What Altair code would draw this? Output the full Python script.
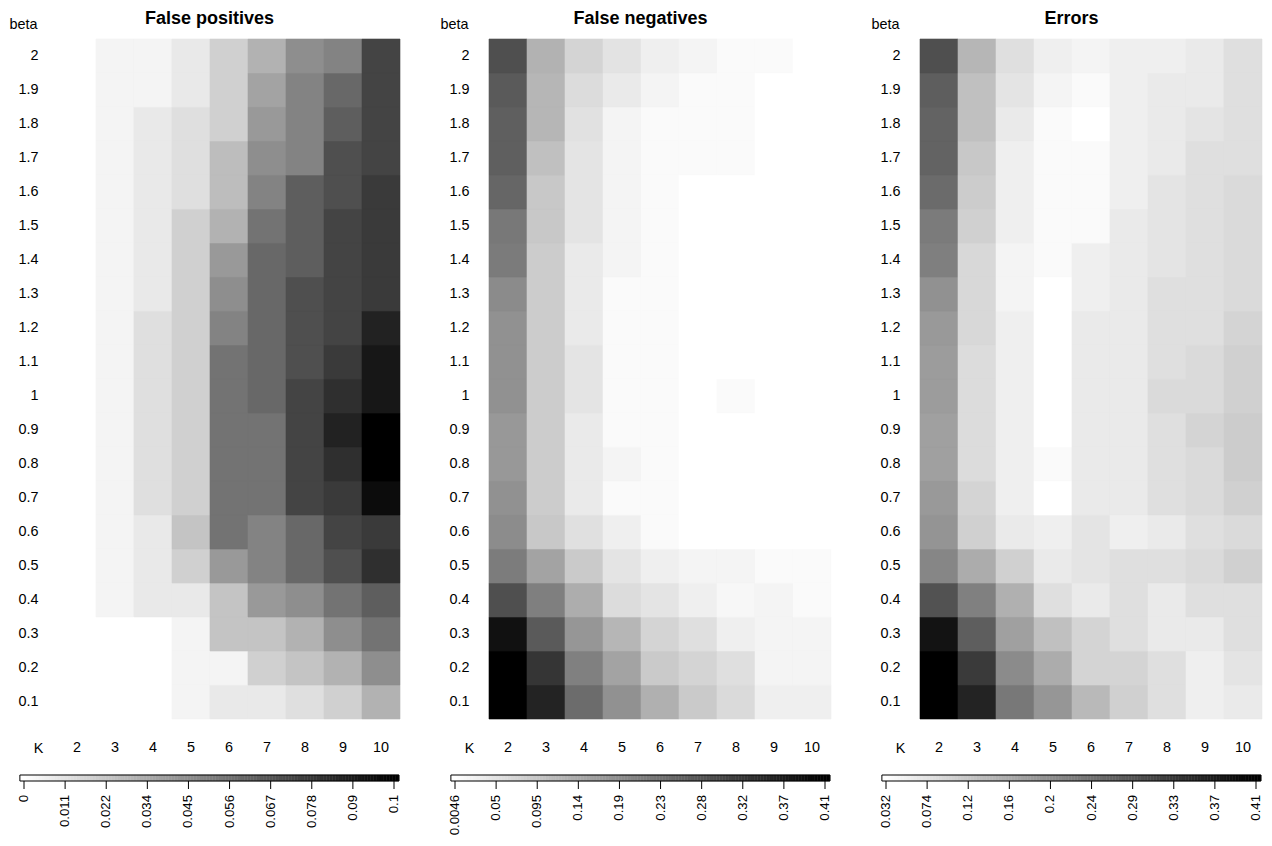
import altair as alt
import numpy as np
import pandas as pd

FONT = "Liberation Sans"

K_LABELS = ["2", "3", "4", "5", "6", "7", "8", "9", "10"]
# beta from bottom (0.1) to top (2)
BETA_LABELS = ["0.1", "0.2", "0.3", "0.4", "0.5", "0.6", "0.7", "0.8", "0.9", "1",
               "1.1", "1.2", "1.3", "1.4", "1.5", "1.6", "1.7", "1.8", "1.9", "2"]

# ---------------- False positives (each list: beta 0.1 -> 2) ----------------
fp_k2 = [0, 0, 0, 0, 0, 0, 0, 0, 0, 0, 0, 0, 0, 0, 0, 0, 0, 0, 0, 0]
fp_k3 = [0, 0, 0, .0043, .0043, .0043, .0043, .0043, .0043, .0043, .0043, .0043, .0043, .0043, .0043, .0043, .0043, .0043, .0043, .0043]
fp_k4 = [0, 0, 0, .0087, .0087, .0087, .0126, .0126, .0126, .0126, .0126, .0126, .0087, .0087, .0087, .0087, .0087, .0087, .0043, .0043]
fp_k5 = [.0043, .0043, .0043, .0087, .0186, .0233, .0186, .0186, .0186, .0186, .0186, .0186, .0186, .0186, .0186, .0126, .0126, .0126, .0087, .0087]
fp_k6 = [.0087, .0043, .0233, .0233, .0403, .0553, .0553, .0553, .0553, .0553, .0553, .049, .0447, .0403, .0304, .0261, .0261, .0186, .0186, .0186]
fp_k7 = [.0087, .0186, .0233, .0403, .049, .049, .0553, .0553, .0553, .0597, .0597, .0597, .0597, .0597, .0553, .049, .0447, .0403, .0364, .0304]
fp_k8 = [.0126, .0233, .0304, .0447, .0597, .0597, .0739, .0739, .0739, .0739, .0696, .0696, .0696, .0636, .0636, .0636, .049, .049, .049, .0447]
fp_k9 = [.0186, .0304, .0447, .0553, .0696, .0739, .0779, .0823, .0874, .0823, .0779, .0739, .0739, .0739, .0739, .0696, .0696, .0636, .0597, .049]
fp_k10 = [.0304, .0447, .0553, .0636, .0823, .0779, .0961, .1008, .1008, .0917, .0917, .0874, .0779, .0779, .0779, .0779, .0739, .0739, .0739, .0739]

# ---------------- False negatives ----------------
fn_k2 = [.4114, .4114, .3841, .2853, .2137, .1881, .1799, .1689, .1689, .1799, .1799, .1799, .1897, .2153, .2198, .2487, .2597, .2597, .2678, .2853]
fn_k3 = [.3557, .3268, .2678, .2088, .1515, .0925, .086, .086, .086, .086, .086, .086, .086, .086, .0925, .0925, .1051, .1209, .1209, .1275]
fn_k4 = [.2389, .2072, .1722, .1356, .0892, .0542, .038, .038, .038, .0477, .0477, .038, .038, .038, .0477, .0477, .0477, .0526, .0603, .0733]
fn_k5 = [.1799, .1515, .1209, .0603, .0477, .0302, .0126, .0221, .0126, .0126, .0126, .0126, .0126, .0221, .0221, .0221, .0221, .0221, .038, .0493]
fn_k6 = [.1307, .0892, .0733, .0477, .0302, .0126, .0126, .0126, .0126, .0126, .0126, .0126, .0126, .0126, .0126, .0126, .0126, .0126, .0221, .0302]
fn_k7 = [.0892, .0733, .0555, .0302, .0221, .0046, .0046, .0046, .0046, .0046, .0046, .0046, .0046, .0046, .0046, .0046, .0126, .0126, .0126, .0221]
fn_k8 = [.0636, .0555, .0302, .0172, .0221, .0046, .0046, .0046, .0046, .0126, .0046, .0046, .0046, .0046, .0046, .0046, .0126, .0126, .0126, .0126]
fn_k9 = [.0302, .0221, .0221, .0221, .0126, .0046, .0046, .0046, .0046, .0046, .0046, .0046, .0046, .0046, .0046, .0046, .0046, .0046, .0046, .0126]
fn_k10 = [.0302, .0221, .0221, .0126, .0126, .0046, .0046, .0046, .0046, .0046, .0046, .0046, .0046, .0046, .0046, .0046, .0046, .0046, .0046, .0046]

# ---------------- Errors ----------------
er_k2 = [.412, .412, .3835, .2896, .2125, .1916, .184, .1737, .1737, .1794, .1794, .184, .1958, .2228, .2288, .2524, .2646, .2646, .2718, .2942]
er_k3 = [.3599, .3257, .2718, .2212, .1555, .1019, .0962, .0841, .0841, .0841, .0841, .0901, .0901, .0901, .1019, .108, .1141, .1259, .1259, .1407]
er_k4 = [.233, .2049, .1737, .1498, .1019, .0632, .0559, .0559, .0559, .0559, .0559, .0559, .0483, .0483, .0559, .0559, .0559, .0632, .0723, .0795]
er_k5 = [.1886, .1555, .1259, .0795, .0632, .0559, .032, .0394, .032, .032, .032, .032, .032, .0394, .0394, .0394, .0394, .0394, .0483, .0559]
er_k6 = [.1365, .0962, .0962, .0632, .0723, .0723, .0632, .0632, .0632, .0632, .0632, .0632, .0559, .0559, .0394, .0394, .0394, .032, .0394, .0483]
er_k7 = [.1019, .0962, .0795, .0795, .0795, .0559, .0632, .0632, .0632, .0632, .0632, .0632, .0632, .0632, .0632, .0559, .0559, .0559, .0559, .0559]
er_k8 = [.0795, .0795, .0632, .0632, .0795, .0632, .0795, .0795, .0795, .0871, .0795, .0795, .0795, .0723, .0723, .0723, .0632, .0632, .0632, .0559]
er_k9 = [.0559, .0559, .0632, .0795, .0871, .0795, .0871, .0871, .0962, .0871, .0871, .0795, .0795, .0795, .0795, .0795, .0795, .0723, .0632, .0632]
er_k10 = [.0632, .0723, .0795, .0795, .1019, .0871, .1019, .108, .108, .1019, .1019, .0962, .0871, .0871, .0871, .0871, .0795, .0795, .0795, .0795]

# colour-bar tick labels and ranges
fp_ticks = ["0", "0.011", "0.022", "0.034", "0.045", "0.056", "0.067", "0.078", "0.09", "0.1"]
fn_ticks = ["0.0046", "0.05", "0.095", "0.14", "0.19", "0.23", "0.28", "0.32", "0.37", "0.41"]
er_ticks = ["0.032", "0.074", "0.12", "0.16", "0.2", "0.24", "0.29", "0.33", "0.37", "0.41"]
fp_range = [0.0, 0.1008]
fn_range = [0.0046, 0.4114]
er_range = [0.032, 0.4118]

PW, PH = 342, 680
CB_LO, CB_HI = -0.1, 9.12   # colour bar extent in tick units
LABEL_SIZE = 14.4
CB_LABEL_SIZE = 13.2
CB_TOP, CB_BOT = 736, 742
TICK_LEN, CB_LABEL_GAP = 8, 6
TITLE_X = 151.5             # titles are centred over the colour-bar span


def panel(title, cols, vrange, ticks):
    vmin, vmax = vrange
    rows = []
    for k, col in zip(K_LABELS, cols):
        for b, v in zip(BETA_LABELS, col):
            rows.append({"K": k, "beta": b, "v": v})
    df = pd.DataFrame(rows)

    cscale = alt.Scale(domain=[vmin, vmax], range=["#ffffff", "#000000"],
                       interpolate="rgb", clamp=True)

    heat = alt.Chart(df).mark_rect(strokeWidth=0.6).encode(
        x=alt.X("K:O", scale=alt.Scale(domain=K_LABELS, paddingInner=0, paddingOuter=0),
                axis=alt.Axis(orient="bottom", title="K", ticks=False, domain=False,
                              labelAngle=0, labelPadding=21.6, labelFontSize=LABEL_SIZE,
                              titleX=-20, titleY=33, titleAlign="center",
                              titleBaseline="alphabetic", titleAngle=0,
                              titleFontWeight="normal", titleFontSize=LABEL_SIZE)),
        y=alt.Y("beta:O", scale=alt.Scale(domain=BETA_LABELS[::-1], paddingInner=0, paddingOuter=0),
                axis=alt.Axis(title="beta", ticks=False, domain=False, labelPadding=20,
                              labelFontSize=LABEL_SIZE, titleAngle=0, titleX=-35, titleY=-10.5,
                              titleAlign="center", titleBaseline="alphabetic",
                              titleFontWeight="normal", titleFontSize=LABEL_SIZE)),
        color=alt.Color("v:Q", scale=cscale, legend=None),
        stroke=alt.Stroke("v:Q", scale=cscale, legend=None),
    )

    # colour bar (gradient drawn through the same colour scale)
    edges = np.linspace(CB_LO, CB_HI, 121)
    mids = (edges[:-1] + edges[1:]) / 2
    cb_df = pd.DataFrame({"p0": edges[:-1], "p1": edges[1:],
                          "v": vmin + mids / 9 * (vmax - vmin)})
    pscale = alt.Scale(domain=[0, 9], range=[-34, 336], nice=False, zero=False)
    cbar = alt.Chart(cb_df).mark_rect(strokeWidth=0.5).encode(
        x=alt.X("p0:Q", scale=pscale, axis=None), x2="p1:Q",
        y=alt.value(CB_TOP), y2=alt.value(CB_BOT),
        color=alt.Color("v:Q", scale=cscale, legend=None),
        stroke=alt.Stroke("v:Q", scale=cscale, legend=None),
    )
    outline = alt.Chart(pd.DataFrame({"a": [CB_LO], "b": [CB_HI]})).mark_rect(
        fillOpacity=0, stroke="black", strokeWidth=1).encode(
        x=alt.X("a:Q", scale=pscale, axis=None), x2="b:Q",
        y=alt.value(CB_TOP), y2=alt.value(CB_BOT))

    tick_df = pd.DataFrame({"i": list(range(len(ticks))), "lab": ticks})
    tick_marks = alt.Chart(tick_df).mark_rule(color="black", strokeWidth=1).encode(
        x=alt.X("i:Q", scale=pscale, axis=None),
        y=alt.value(CB_BOT), y2=alt.value(CB_BOT + TICK_LEN))
    tick_text = alt.Chart(tick_df).mark_text(
        font=FONT, fontSize=CB_LABEL_SIZE, angle=270, align="right", baseline="middle",
        color="black").encode(
        x=alt.X("i:Q", scale=pscale, axis=None),
        y=alt.value(CB_BOT + TICK_LEN + CB_LABEL_GAP), text="lab:N")

    head = alt.Chart(pd.DataFrame({"t": [title]})).mark_text(
        font=FONT, fontSize=18, fontWeight="bold", align="center",
        baseline="alphabetic", color="black").encode(
        text="t:N", x=alt.value(TITLE_X), y=alt.value(-15))

    return alt.layer(heat, cbar, outline, tick_marks, tick_text, head).resolve_scale(
        x="independent").resolve_axis(x="independent").properties(width=PW, height=PH)


p1 = panel("False positives", [fp_k2, fp_k3, fp_k4, fp_k5, fp_k6, fp_k7, fp_k8, fp_k9, fp_k10],
           fp_range, fp_ticks)
p2 = panel("False negatives", [fn_k2, fn_k3, fn_k4, fn_k5, fn_k6, fn_k7, fn_k8, fn_k9, fn_k10],
           fn_range, fn_ticks)
p3 = panel("Errors", [er_k2, er_k3, er_k4, er_k5, er_k6, er_k7, er_k8, er_k9, er_k10],
           er_range, er_ticks)

chart = alt.hconcat(p1, p2, p3, spacing=89, bounds="flush").resolve_scale(
    color="independent", stroke="independent"
).properties(
    padding={"left": 0, "top": 2, "right": 0, "bottom": 0}
).configure(font=FONT).configure_view(stroke=None).configure_axis(
    labelFont=FONT, titleFont=FONT, labelColor="black", titleColor="black",
    titleFontWeight="normal", titleFontSize=LABEL_SIZE, labelFontSize=LABEL_SIZE,
    grid=False
)

chart.save("out.html", embed_options={"renderer": "svg", "actions": False})
